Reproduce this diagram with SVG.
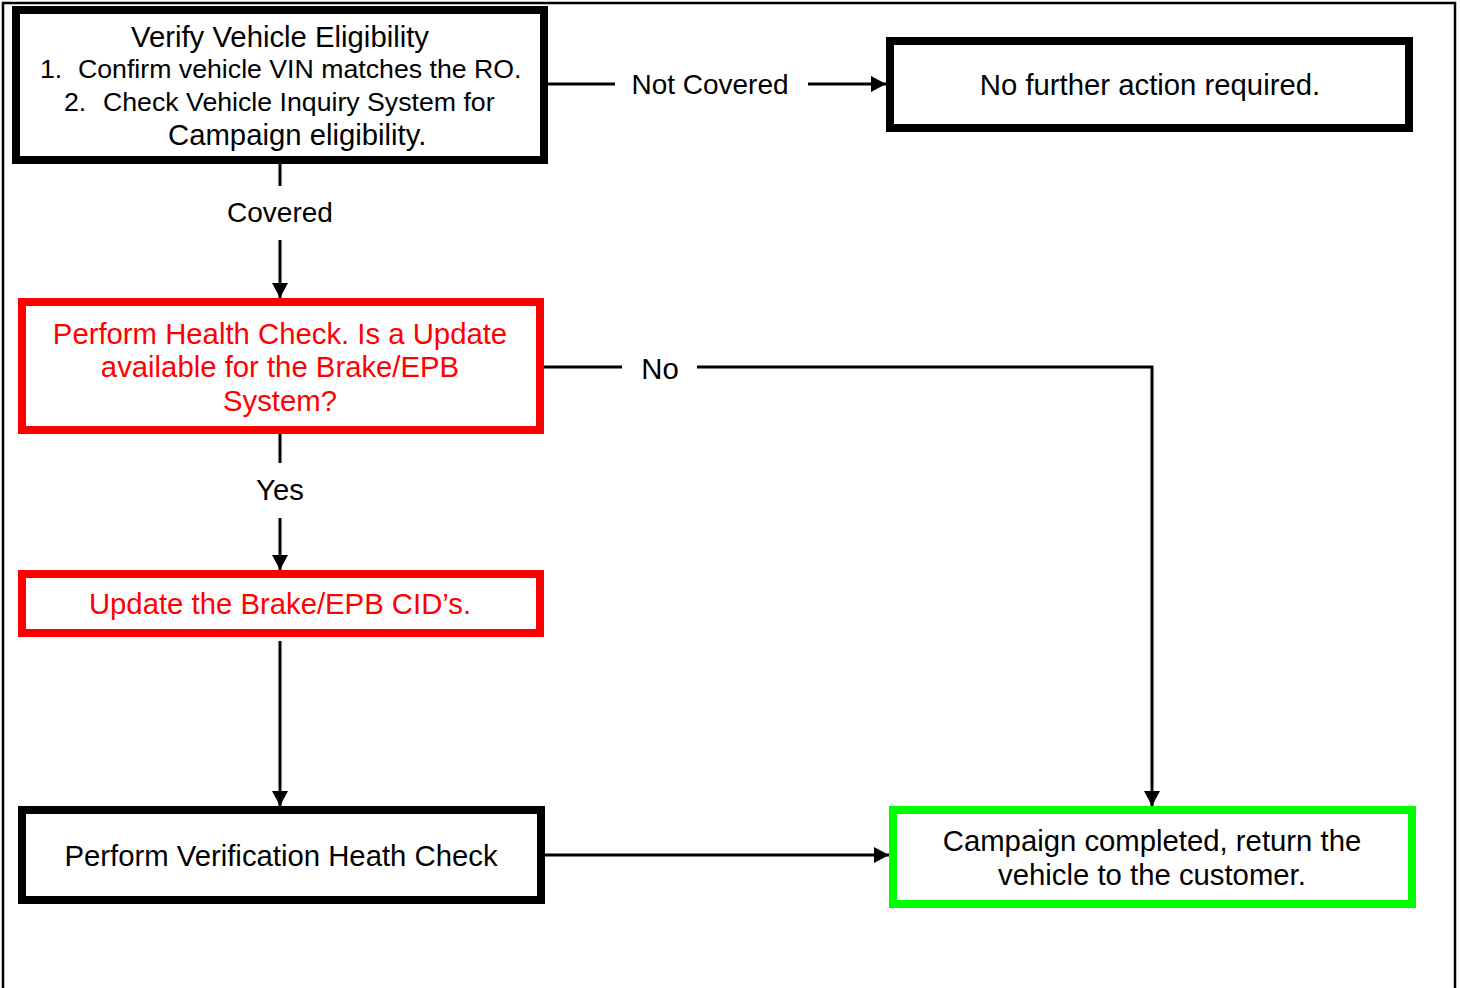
<svg xmlns="http://www.w3.org/2000/svg" width="1460" height="988" viewBox="0 0 1460 988">
<style>
.box{fill:#fff;stroke-width:8}
.blk{stroke:#000}
.red{stroke:#ff0000}
.grn{stroke:#00ff00}
.t{font-family:"Liberation Sans",Arial,sans-serif;font-size:29.3px;fill:#000}
.s{font-size:26.7px}
.m{font-size:28px}
.tr{fill:#ff0000}
.c{text-anchor:middle}
.ln{fill:none;stroke:#000;stroke-width:3}
</style>
<defs>
<marker id="ah" markerUnits="userSpaceOnUse" markerWidth="15" markerHeight="16" refX="15" refY="8" orient="auto">
<path d="M0,0 L15,8 L0,16 Z" fill="#000"/>
</marker>
</defs>
<rect x="0" y="0" width="1460" height="988" fill="#fff"/>
<rect x="3" y="3" width="1452" height="1000" fill="none" stroke="#000" stroke-width="2.5"/>
<g id="connectors">
<line class="ln" x1="548" y1="84" x2="615" y2="84"/>
<line class="ln" x1="808" y1="84" x2="886" y2="84" marker-end="url(#ah)"/>
<line class="ln" x1="280" y1="164" x2="280" y2="186"/>
<line class="ln" x1="280" y1="240" x2="280" y2="298" marker-end="url(#ah)"/>
<line class="ln" x1="544" y1="367" x2="622" y2="367"/>
<polyline class="ln" points="697,367 1152,367 1152,806" marker-end="url(#ah)"/>
<line class="ln" x1="280" y1="434" x2="280" y2="463"/>
<line class="ln" x1="280" y1="518" x2="280" y2="570" marker-end="url(#ah)"/>
<line class="ln" x1="280" y1="641" x2="280" y2="806" marker-end="url(#ah)"/>
<line class="ln" x1="545" y1="855" x2="889" y2="855" marker-end="url(#ah)"/>
<text class="t m c" x="710" y="94">Not Covered</text>
<text class="t m c" x="280" y="222">Covered</text>
<text class="t c" x="660" y="379">No</text>
<text class="t c" x="280" y="500">Yes</text>
</g>
<g id="verify">
<rect class="box blk" x="16" y="10" width="528" height="150"/>
<text class="t c" x="280" y="47">Verify Vehicle Eligibility</text>
<text class="t s" x="40" y="78">1.</text>
<text class="t s" x="78" y="78">Confirm vehicle VIN matches the RO.</text>
<text class="t s" x="64" y="111">2.</text>
<text class="t s" x="103" y="111">Check Vehicle Inquiry System for</text>
<text class="t" x="168" y="145">Campaign eligibility.</text>
</g>
<g id="no-action">
<rect class="box blk" x="890" y="41" width="519" height="87"/>
<text class="t c" x="1150" y="95">No further action required.</text>
</g>
<g id="health-check">
<rect class="box red" x="22" y="302" width="518" height="128"/>
<text class="t tr c" x="280" y="344">Perform Health Check. Is a Update</text>
<text class="t tr c" x="280" y="377">available for the Brake/EPB</text>
<text class="t tr c" x="280" y="411">System?</text>
</g>
<g id="update">
<rect class="box red" x="22" y="574" width="518" height="59"/>
<text class="t tr c" x="280" y="614">Update the Brake/EPB CID’s.</text>
</g>
<g id="verification">
<rect class="box blk" x="22" y="810" width="519" height="90"/>
<text class="t c" x="281" y="866">Perform Verification Heath Check</text>
</g>
<g id="completed">
<rect class="box grn" x="893" y="810" width="519" height="94"/>
<text class="t c" x="1152" y="851">Campaign completed, return the</text>
<text class="t c" x="1152" y="885">vehicle to the customer.</text>
</g>
</svg>
